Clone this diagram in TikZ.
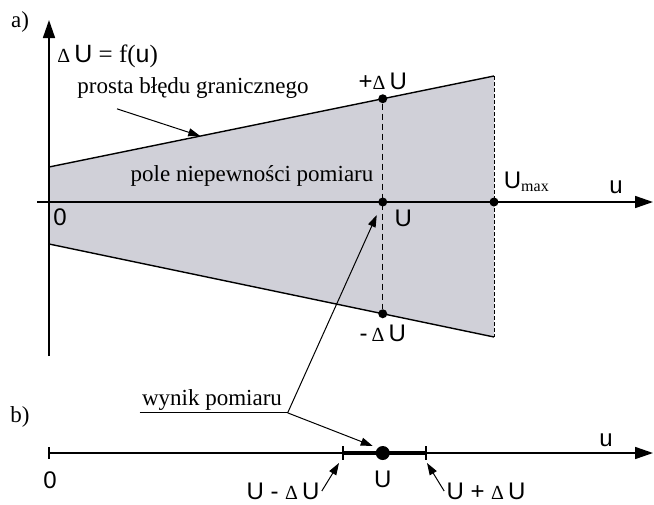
\documentclass[tikz,border=0pt]{standalone}
\usepackage{fontspec}
\setmainfont{Liberation Serif}
\setsansfont{Liberation Sans}
\usetikzlibrary{arrows.meta,positioning,calc}
\definecolor{fieldgrey}{RGB}{208,208,216}
\newcommand{\dlt}{{\rmfamily\fontsize{10}{11}\selectfont Δ}\,}
\tikzset{
  axisarrow/.style={-{Triangle[length=9pt,width=6pt]}, line width=0.8pt},
  pointer/.style={-{Triangle[length=6pt,width=4pt]}, line width=0.5pt},
  dot/.style={circle, fill=black, inner sep=0pt, minimum size=#1},
  dot/.default=4.5pt,
  txt/.style={font=\fontsize{11.5}{13}\selectfont, inner sep=1pt},
  val/.style={font=\sffamily\fontsize{12}{14}\selectfont, inner sep=1pt}
}
\begin{document}
\begin{tikzpicture}[x=0.5pt, y=-0.5pt]
\useasboundingbox (0,0) rectangle (654,504);
\coordinate (O) at (49,202);
\coordinate (TL) at (49,167);
\coordinate (TR) at (494,76);
\coordinate (BR) at (494,337);
\coordinate (BL) at (49,244);
\coordinate (yend) at (49,20);
\coordinate (ybot) at (49,356);
\coordinate (xbeg) at (37,202);
\coordinate (xend) at (653,202);

\fill[fieldgrey] (TL) -- (TR) -- (BR) -- (BL) -- cycle;
\draw[line width=0.7pt] (TL) -- (TR);
\draw[line width=0.7pt] (BL) -- (BR);
\draw[dashed, dash pattern=on 2pt off 1pt, line width=0.5pt] (TR) -- (BR);

\node[dot] (Uplus) at ($(TL)!0.75!(TR)$) {};
\node[dot] (Uminus) at ($(BL)!0.75!(BR)$) {};
\node[dot] (U) at (Uplus |- O) {};
\node[dot] (Umax) at (TR |- O) {};
\draw[dashed, dash pattern=on 3pt off 2pt, line width=0.6pt] (Uplus) -- (Uminus);

\draw[axisarrow] (ybot) -- (yend);
\draw[axisarrow] (xbeg) -- (xend);

\node[txt] (alabel) at (20,22) {a)};
\node[anchor=west, inner sep=1pt, font=\fontsize{12.5}{14}\selectfont] (func) at (55,56) {\dlt\textsf{U} = f(\textsf{u})};
\node[txt] (border) at (193,88) {prosta błędu granicznego};
\draw[pointer] (border.south west) ++(42,8) -- ($(TL)!0.34!(TR)$);
\node[txt] (field) at (252,176) {pole niepewności pomiaru};
\node[val, above=1pt of Uplus] (lplus) {+\dlt U};
\node[val, below=2pt of Uminus] (lminus) {-\,\dlt U};
\node[val, below right=1pt and 3pt of U] (lU) {U};
\node[val, above right=2pt and 2pt of Umax] (lmax) {U\textsubscript{\rmfamily max}};
\node[val, above left=3pt and 14pt of xend] (lu) {u};
\node[val, below right=2pt and 1pt of O] (lzero) {0};

\coordinate (lowbeg) at (49,453);
\coordinate (lowend) at (653,453);
\coordinate (lowleft) at (343,453);
\coordinate (lowright) at (426,453);
\draw[axisarrow] (lowbeg) -- (lowend);
\draw[line width=0.6pt] ($(lowbeg)+(0,-6)$) -- ($(lowbeg)+(0,6)$);
\draw[line width=2pt] (lowleft) -- (lowright);
\draw[line width=0.6pt] ($(lowleft)+(0,-7)$) -- ($(lowleft)+(0,7)$);
\draw[line width=0.6pt] ($(lowright)+(0,-7)$) -- ($(lowright)+(0,7)$);
\node[dot=7pt] (Ulow) at (U |- lowbeg) {};

\node[txt] (blabel) at (20,417) {b)};
\node[txt] (result) at (212,400) {wynik pomiaru};
\path (result.south west) ++(148,0) coordinate (fork);
\draw[line width=0.5pt] (result.south west) -- (fork);
\draw[pointer] (fork) -- ($(U)+(-6,13)$);
\draw[pointer] (fork) -- ($(Ulow)+(-10,-7)$);

\node[val] (lzerolow) at (50,480) {0};
\node[val, below=4pt of Ulow] (lUlow) {U};
\node[val] (lulow) at (606,440) {u};
\node[val] (lminuslow) at (283,491) {U - \dlt U};
\node[val] (lpluslow) at (486,491) {U + \dlt U};
\draw[pointer] (lminuslow.east) -- ($(lowleft)+(-4,10)$);
\draw[pointer] (lpluslow.west) -- ($(lowright)+(1,10)$);
\end{tikzpicture}
\end{document}
